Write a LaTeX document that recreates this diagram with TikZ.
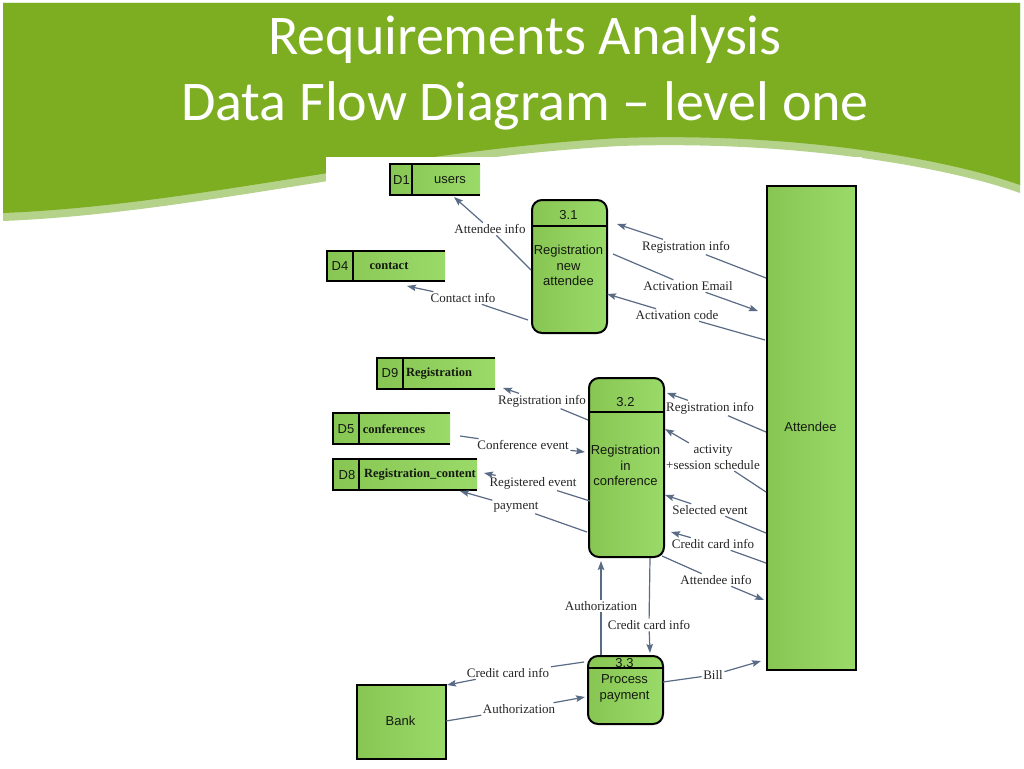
\documentclass[tikz,border=0pt]{standalone}
\usepackage{fontspec}
\setmainfont{Liberation Serif}
\setsansfont{Liberation Sans}
\newfontfamily\titlefont{Carlito}
\usetikzlibrary{calc,arrows.meta}

\definecolor{hdr}{HTML}{7DAE22}
\definecolor{hdrlight}{HTML}{B5D28A}
\definecolor{boxL}{HTML}{88C653}
\definecolor{boxR}{HTML}{9ADA69}
\definecolor{flowc}{HTML}{5A6B85}
\definecolor{inktext}{HTML}{141A10}

\tikzset{
  proc/.style={draw=black, line width=2pt, rounded corners=10pt, left color=boxL, right color=boxR, inner sep=0pt, anchor=north west},
  ext/.style={draw=black, line width=1.8pt, left color=boxL, right color=boxR, inner sep=0pt, anchor=north west},
  storebg/.style={left color=boxL, right color=boxR, inner sep=0pt, anchor=north west},
  storeline/.style={draw=black, line width=2pt},
  divline/.style={draw=black, line width=2pt},
  sf/.style={font=\sffamily\fontsize{13}{15.5}\selectfont, text=inktext, align=center, inner sep=0pt},
  sb/.style={font=\bfseries\fontsize{12.5}{15}\selectfont, text=inktext, inner sep=0pt},
  lbl/.style={font=\fontsize{13}{16}\selectfont, inner sep=1.5pt, align=center, text=black!85},
  flow/.style={draw=flowc, line width=1.2pt},
  flowa/.style={flow, -{Stealth[length=9pt,width=6.5pt,inset=1.5pt]}},
  titletext/.style={font=\titlefont\fontsize{56}{60}\selectfont, text=white, anchor=base, inner sep=0pt},
}

\begin{document}
\begin{tikzpicture}[x=1pt,y=-1pt]
\useasboundingbox (0,0) rectangle (1024,768);
\fill[white] (0,0) rectangle (1024,768);

% header band with wave
\fill[hdrlight] (3,3) -- (1020,3) -- (1020,193) .. controls (950,168) and (800,140) .. (620,146) .. controls (400,158) and (200,213) .. (3,221) -- cycle;
\fill[hdr] (3,3) -- (1020,3) -- (1020,185) .. controls (950,160) and (800,132) .. (620,138) .. controls (400,150) and (200,205) .. (3,213) -- cycle;
\fill[white] (326,157) rectangle (862,768);

\node[titletext] (t1) at (525,55) {Requirements Analysis};
\node[titletext] (t2) at (525,120) {Data Flow Diagram – level one};

% external entities
\node[ext, minimum width=89pt, minimum height=484pt] (att) at (766,185) {};
\node[sf] (atttxt) at (810.5,427) {Attendee};
\node[ext, minimum width=89pt, minimum height=74pt] (bank) at (356,684) {};
\node[sf] (banktxt) at (400.5,721) {Bank};

% processes
\node[proc, minimum width=75pt, minimum height=133pt] (p31) at (531,199) {};
\draw[divline] (p31.west |- 0,226) -- (p31.east |- 0,226);
\node[sf] (p31h) at (568.5,215) {3.1};
\node[sf] (p31t) at (568.5,265.5) {Registration\\new\\attendee};

\node[proc, minimum width=75pt, minimum height=179pt] (p32) at (588,377) {};
\draw[divline] (p32.west |- 0,412) -- (p32.east |- 0,412);
\node[sf] (p32h) at (625.5,402) {3.2};
\node[sf] (p32t) at (625.5,465.5) {Registration\\in\\conference};

\node[proc, minimum width=75pt, minimum height=68pt] (p33) at (587,655) {};
\draw[divline] (p33.west |- 0,668) -- (p33.east |- 0,668);
\node[sf] (p33h) at (624.5,663) {3.3};
\node[sf] (p33t) at (624.5,688.5) {Process\\payment};

% data stores
\node[storebg, minimum width=90pt, minimum height=31pt] (d1) at (390,164) {};
\draw[storeline] (d1.north east) -- (d1.north west) -- (d1.south west) -- (d1.south east);
\draw[storeline] ($(d1.north west)+(22,0)$) -- ($(d1.south west)+(22,0)$);
\node[sf] (d1id) at (401.5,180) {D1};
\node[sf] (d1nm) at (450,180) {users};

\node[storebg, minimum width=118pt, minimum height=30pt] (d4) at (327,251) {};
\draw[storeline] (d4.north east) -- (d4.north west) -- (d4.south west) -- (d4.south east);
\draw[storeline] ($(d4.north west)+(26,0)$) -- ($(d4.south west)+(26,0)$);
\node[sf] (d4id) at (340,266) {D4};
\node[sb] (d4nm) at (389,266) {contact};

\node[storebg, minimum width=118pt, minimum height=31pt] (d9) at (377,358) {};
\draw[storeline] (d9.north east) -- (d9.north west) -- (d9.south west) -- (d9.south east);
\draw[storeline] ($(d9.north west)+(26,0)$) -- ($(d9.south west)+(26,0)$);
\node[sf] (d9id) at (390,373) {D9};
\node[sb] (d9nm) at (439,374) {Registration};

\node[storebg, minimum width=117pt, minimum height=31pt] (d5) at (333,413) {};
\draw[storeline] (d5.north east) -- (d5.north west) -- (d5.south west) -- (d5.south east);
\draw[storeline] ($(d5.north west)+(26,0)$) -- ($(d5.south west)+(26,0)$);
\node[sf] (d5id) at (346,429) {D5};
\node[sb] (d5nm) at (394,429) {conferences};

\node[storebg, minimum width=144pt, minimum height=31pt] (d8) at (333,459) {};
\draw[storeline] (d8.north east) -- (d8.north west) -- (d8.south west) -- (d8.south east);
\draw[storeline] ($(d8.north west)+(26,0)$) -- ($(d8.south west)+(26,0)$);
\node[sf] (d8id) at (347,475) {D8};
\node[sb] (d8nm) at (420,475) {Registration\_content};

% flow labels
\node[lbl] (l1) at (490,229) {Attendee info};
\node[lbl] (l2) at (463,298) {Contact info};
\node[lbl] (l3) at (686,247) {Registration info};
\node[lbl] (l4) at (688,286) {Activation Email};
\node[lbl] (l5) at (677,315) {Activation code};
\node[lbl] (l6) at (542,401) {Registration info};
\node[lbl] (l7) at (523,445) {Conference event};
\node[lbl] (l8) at (533,483) {Registered event};
\node[lbl] (l9) at (516,507) {payment};
\node[lbl] (l10) at (710,408) {Registration info};
\node[lbl] (l11) at (713,457) {activity\\+session schedule};
\node[lbl] (l12) at (710,510) {Selected event};
\node[lbl] (l13) at (713,544) {Credit card info};
\node[lbl] (l14) at (716,580) {Attendee info};
\node[lbl] (l15) at (601,606) {Authorization};
\node[lbl] (l16) at (649,625) {Credit card info};
\node[lbl] (l17) at (508,673) {Credit card info};
\node[lbl] (l18) at (519,709) {Authorization};
\node[lbl] (l19) at (713,675) {Bill};

% flows
\draw[flow] ($(p31.north west)+(0,71)$) -- (l1);
\draw[flowa] (l1) -- ($(d1.north west)+(64,33)$);
\draw[flow] ($(p31.north west)+(-3,121)$) -- (l2);
\draw[flowa] (l2) -- ($(d4.north west)+(80,35)$);
\draw[flow] ($(att.north west)+(0,93)$) -- (l3);
\draw[flowa] (l3) -- ($(p31.north west)+(86,25)$);
\draw[flow] ($(p31.north west)+(82,55)$) -- (l4);
\draw[flowa] (l4) -- ($(att.north west)+(-8,126)$);
\draw[flow] ($(att.north west)+(-1,155)$) -- (l5);
\draw[flowa] (l5) -- ($(p31.north west)+(76,95)$);

\draw[flow] ($(p32.north west)+(0,43)$) -- (l6);
\draw[flowa] (l6) -- ($(d9.north west)+(126,30)$);
\draw[flow] ($(d5.north west)+(127,23)$) -- (l7);
\draw[flowa] (l7) -- ($(p32.north west)+(-3,75)$);
\draw[flow] ($(p32.north west)+(2,124)$) -- (l8);
\draw[flowa] (l8) -- ($(d8.north west)+(151,14)$);
\draw[flow] ($(p32.north west)+(-1,155)$) -- (l9);
\draw[flowa] (l9) -- ($(d8.north west)+(127,32)$);

\draw[flow] ($(att.north west)+(0,247)$) -- (l10);
\draw[flowa] (l10) -- ($(p32.north west)+(79,16)$);
\draw[flow] ($(att.north west)+(0,307)$) -- (l11);
\draw[flowa] (l11) -- ($(p32.north west)+(77,52)$);
\draw[flow] ($(att.north west)+(0,348)$) -- (l12);
\draw[flowa] (l12) -- ($(p32.north west)+(77,118)$);
\draw[flow] ($(att.north west)+(0,378)$) -- (l13);
\draw[flowa] (l13) -- ($(p32.north west)+(83,155)$);
\draw[flow] ($(p32.north west)+(74,179)$) -- (l14);
\draw[flowa] (l14) -- ($(att.north west)+(-2,415)$);

\draw[flow] ($(p33.north west)+(14,0)$) -- (l15);
\draw[flowa] (l15) -- ($(p32.north west)+(13,184)$);
\draw[flow] ($(p32.north west)+(62,181)$) -- (l16);
\draw[flowa] (l16) -- ($(p33.north west)+(63,-2)$);
\draw[flow] ($(p33.north west)+(-3,7)$) -- (l17);
\draw[flowa] (l17) -- ($(bank.north west)+(91,1)$);
\draw[flow] ($(bank.north west)+(90,37)$) -- (l18);
\draw[flowa] (l18) -- ($(p33.north west)+(-2,42)$);
\draw[flow] ($(p33.north west)+(76,27)$) -- (l19);
\draw[flowa] (l19) -- ($(att.north west)+(-5,476)$);
\end{tikzpicture}
\end{document}
